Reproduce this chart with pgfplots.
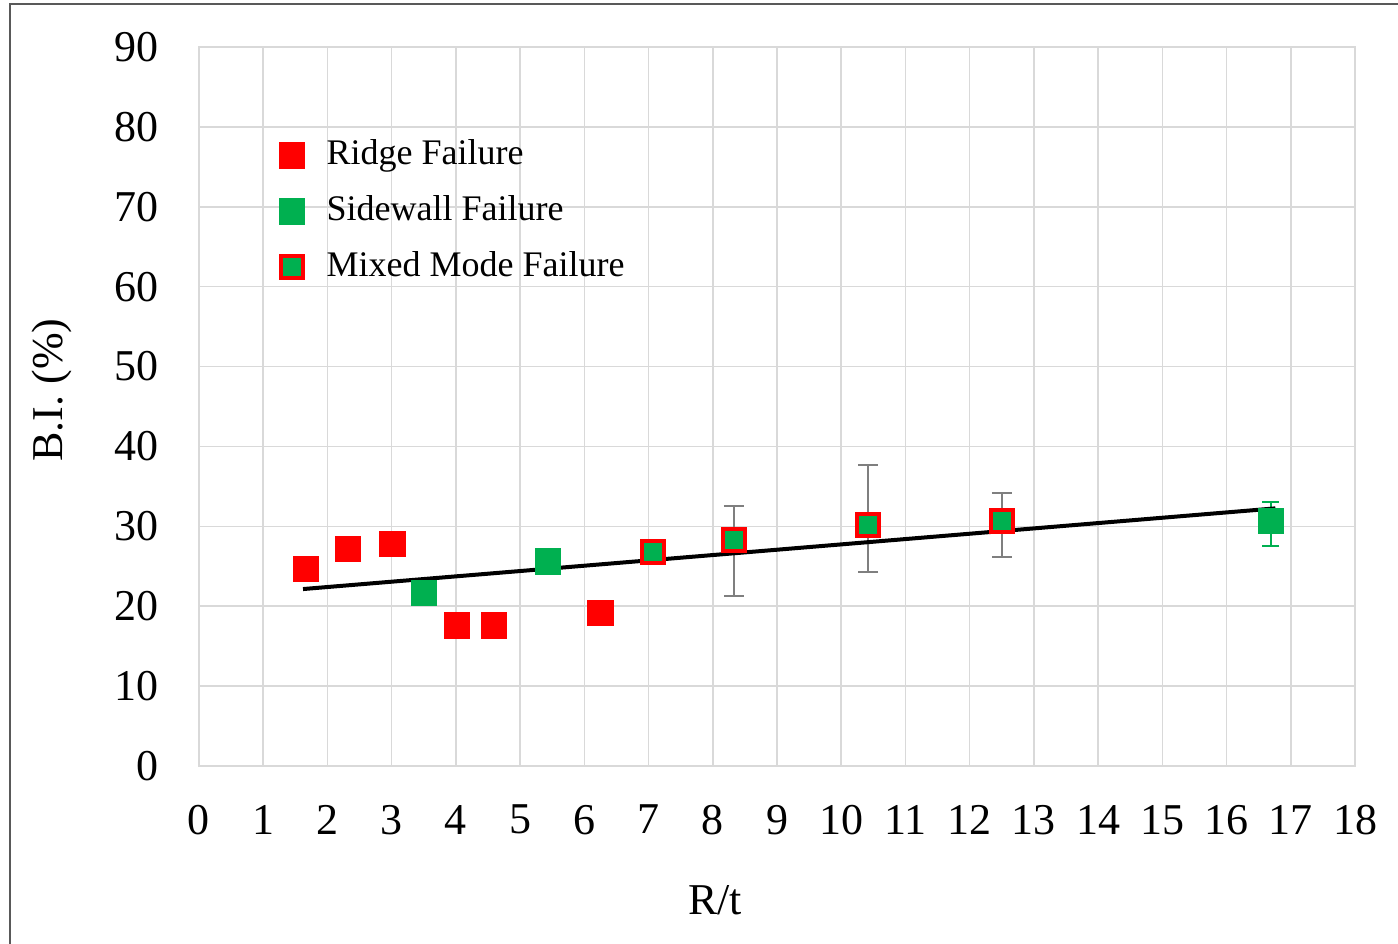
\documentclass[border=0pt]{standalone}
\usepackage{fontspec}
\setmainfont{Liberation Serif}
\usepackage{pgfplots}
\pgfplotsset{compat=1.18}
\definecolor{rf}{HTML}{FF0000}
\definecolor{gf}{HTML}{00B050}
\definecolor{gridc}{HTML}{D9D9D9}
\definecolor{errc}{HTML}{7F7F7F}
\pgfplotsset{leg/.style={legend image code/.code={\draw[mark repeat=2,mark phase=2,##1] plot coordinates {(0pt,0pt) (8.5pt,0pt) (23pt,0pt)}; \path (23.5pt,0pt);}}}
\begin{document}
\begin{tikzpicture}
\useasboundingbox (0,0) rectangle (699pt,471.5pt);
\fill[white] (0,0) rectangle (699pt,471.5pt);
\draw[line width=1pt, color=black!65] (5pt,-5pt) -- (5pt,469.3pt) -- (710pt,469.3pt);
\begin{axis}[
 at={(99.5pt,88.5pt)}, anchor=south west,
 scale only axis, width=578pt, height=359.5pt,
 xmin=0, xmax=18, ymin=0, ymax=90,
 xtick={0,1,...,18}, ytick={0,10,...,90},
 grid=major, major grid style={gridc, line width=0.75pt},
 axis line style={gridc, line width=0.75pt},
 major tick length=0pt,
 tick label style={font=\fontsize{22}{26}\selectfont},
 /pgf/number format/assume math mode=true,
 xticklabel style={yshift=-16pt},
 yticklabel style={xshift=-16.7pt},
 legend style={at={(axis cs:1.25,79.1)}, anchor=north west, draw=none, fill=none,
   inner sep=0pt, row sep=7pt, nodes={inner sep=2pt, text height=13pt, text depth=4pt},
   font=\fontsize{18}{22}\selectfont},
 legend cell align=left,
]
% Ridge failure
\addplot[only marks, leg, mark=square*, mark size=6.3pt, mark options={fill=rf, draw=rf, line width=0.4pt}]
 coordinates {(1.66,24.68) (2.32,27.2) (3.01,27.8) (4.01,17.6) (4.59,17.6) (6.25,19.2)};
\addlegendentry{Ridge Failure}
% Sidewall failure
\addplot[only marks, leg, mark=square*, mark size=6.3pt, mark options={fill=gf, draw=gf, line width=0.4pt}]
 coordinates {(3.50,21.7) (5.43,25.6)};
\addlegendentry{Sidewall Failure}
% Mixed mode failure
\addplot[only marks, leg, mark=square*, mark size=5.5pt, mark options={fill=gf, draw=rf, line width=2pt},
 error bars/.cd, y dir=both, y explicit,
 error bar style={errc, line width=1pt},
 error mark=|, error mark options={errc, mark size=5pt, line width=1pt}]
 coordinates {
 (7.07,26.82) +- (0,0)
 (8.33,28.29) += (0,4.25) -= (0,6.98)
 (10.42,30.16) += (0,7.51) -= (0,5.88)
 (12.50,30.70) += (0,3.50) -= (0,4.60)
 };
\addlegendentry{Mixed Mode Failure}
% Sidewall with error bar
\addplot[forget plot, only marks, mark=square*, mark size=6.3pt, mark options={fill=gf, draw=gf, line width=0.4pt},
 error bars/.cd, y dir=both, y explicit,
 error bar style={gf, line width=1pt},
 error mark=|, error mark options={gf, mark size=4.3pt, line width=1pt}]
 coordinates {(16.69,30.70) += (0,2.40) -= (0,3.10)};
% Trend line
\addplot[forget plot, black, line width=2pt] coordinates {(1.62,22.15) (16.76,32.25)};
\end{axis}
\node[rotate=90, font=\fontsize{22}{26}\selectfont] at (26pt,276.5pt) {B.I. (\%)};
\node[font=\fontsize{22}{26}\selectfont] at (357.5pt,21.5pt) {R/t};
\end{tikzpicture}
\end{document}
